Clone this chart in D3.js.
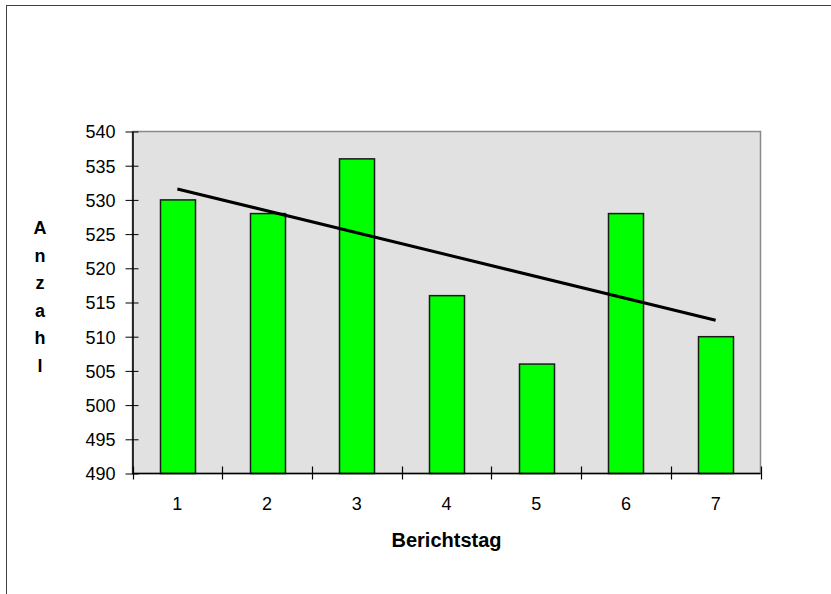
<!DOCTYPE html>
<html>
<head>
<meta charset="utf-8">
<script src="https://cdn.jsdelivr.net/npm/d3@7"></script>
<style>
  html, body { margin: 0; padding: 0; background: #fff; }
  svg { display: block; }
  text { font-family: Arial, "Liberation Sans", sans-serif; fill: #000; }
</style>
</head>
<body>
<svg id="chart" width="831" height="594"></svg>
<script>
// Reporting days and counts
const days = [1, 2, 3, 4, 5, 6, 7];
const counts = [530, 528, 536, 516, 506, 528, 510];
// Linear trend: value at first and last day
const trendDays = [1, 7];
const trendValues = [531.6, 512.4];
const yTicks = [490, 495, 500, 505, 510, 515, 520, 525, 530, 535, 540];
const yTitle = "Anzahl";
const xTitle = "Berichtstag";

const FONT = 18;
const svg = d3.select("#chart");

// outer chart frame
svg.append("rect")
  .attr("x", 6.5).attr("y", 5.5)
  .attr("width", 840).attr("height", 600)
  .attr("fill", "none").attr("stroke", "#404040").attr("stroke-width", 1);

const plot = { left: 132.5, right: 760.5, top: 131.5, bottom: 473.5 };

const xPos = d3.scaleBand().domain(days).range([plot.left, plot.right]);
const barWidth = 35;

const y = d3.scaleLinear()
  .domain([490, 540])
  .range([plot.bottom, plot.top]);

// plot area background
svg.append("rect")
  .attr("x", plot.left).attr("y", plot.top)
  .attr("width", plot.right - plot.left).attr("height", plot.bottom - plot.top)
  .attr("fill", "#e1e1e1").attr("stroke", "#8a8a8a").attr("stroke-width", 1.5);

// bars
svg.append("g").selectAll("rect")
  .data(days)
  .join("rect")
  .attr("x", (d) => Math.round(xPos(d) + xPos.bandwidth() / 2 - barWidth / 2) + 0.5)
  .attr("y", (d, i) => y(counts[i]))
  .attr("width", barWidth)
  .attr("height", (d, i) => y(490) - y(counts[i]))
  .attr("fill", "#00ff00")
  .attr("stroke", "#1a1a1a")
  .attr("stroke-width", 1.5);

// trend line
svg.append("line")
  .attr("x1", xPos(trendDays[0]) + xPos.bandwidth() / 2)
  .attr("y1", y(trendValues[0]))
  .attr("x2", xPos(trendDays[1]) + xPos.bandwidth() / 2)
  .attr("y2", y(trendValues[1]))
  .attr("stroke", "#000").attr("stroke-width", 3);

// y axis
const yAxis = svg.append("g")
  .attr("transform", `translate(${plot.left},0)`)
  .call(d3.axisLeft(y).tickValues(yTicks).tickSize(7).tickSizeOuter(0).tickPadding(10));
yAxis.attr("font-size", FONT).attr("font-family", "Arial, 'Liberation Sans', sans-serif");
yAxis.select(".domain").attr("stroke", "#000").attr("stroke-width", 1.5);
yAxis.selectAll(".tick line").attr("stroke", "#000").attr("x2", 6).attr("x1", -7);
yAxis.selectAll(".tick text").attr("x", -17).attr("dy", "0.35em");

// x axis with tick marks between categories
const xAxisG = svg.append("g").attr("transform", `translate(0,${plot.bottom})`);
xAxisG.append("line")
  .attr("x1", plot.left).attr("x2", plot.right)
  .attr("stroke", "#000").attr("stroke-width", 1.5);
const boundaries = days.map((d) => xPos(d)).concat([plot.right]);
xAxisG.selectAll("line.tk")
  .data(boundaries)
  .join("line")
  .attr("class", "tk")
  .attr("x1", (d) => Math.round(d) + 0.5).attr("x2", (d) => Math.round(d) + 0.5)
  .attr("y1", -7).attr("y2", 6)
  .attr("stroke", "#000").attr("stroke-width", 1.2);
xAxisG.selectAll("text")
  .data(days)
  .join("text")
  .attr("x", (d) => xPos(d) + xPos.bandwidth() / 2)
  .attr("y", 36.5)
  .attr("text-anchor", "middle")
  .attr("font-size", FONT)
  .text((d) => d);

// axis titles
svg.append("text")
  .attr("x", (plot.left + plot.right) / 2)
  .attr("y", 547)
  .attr("text-anchor", "middle")
  .attr("font-size", 20)
  .attr("font-weight", "bold")
  .text(xTitle);

svg.append("g").selectAll("text")
  .data(yTitle.split(""))
  .join("text")
  .attr("x", 40)
  .attr("y", (d, i) => 234 + i * 27.6)
  .attr("text-anchor", "middle")
  .attr("font-size", FONT)
  .attr("font-weight", "bold")
  .text((d) => d);
</script>
</body>
</html>
